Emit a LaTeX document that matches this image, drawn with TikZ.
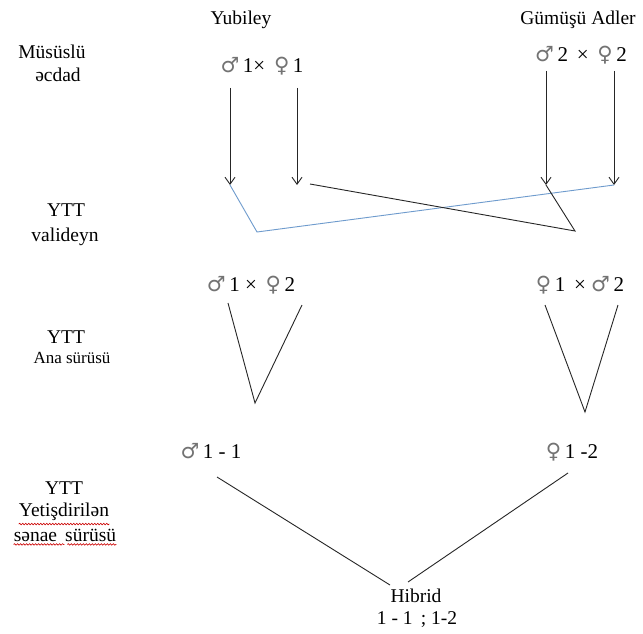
\documentclass[tikz,border=0pt]{standalone}
\usepackage{fontspec}
\setmainfont{Liberation Serif}
\newfontfamily\symfont{DejaVu Sans}
\newcommand{\mal}{{\symfont\fontsize{21}{22}\selectfont\color{black!55}♂}}
\newcommand{\fem}{{\symfont\fontsize{21}{22}\selectfont\color{black!55}♀}}
\usetikzlibrary{arrows.meta,decorations.pathmorphing}
\definecolor{linkblue}{RGB}{110,155,205}
\tikzset{
  lbl/.style={inner sep=0pt, font=\fontsize{19.5}{21}\selectfont},
  small/.style={inner sep=0pt, font=\fontsize{17}{19}\selectfont},
  cross/.style={inner sep=0pt, font=\fontsize{21}{23}\selectfont},
  link/.style={line width=0.9pt, black!85},
  arr/.style={link, -{Straight Barb[length=7pt,width=10pt]}},
  wavy/.style={red!80!black, line width=0.6pt, decorate,
    decoration={snake, segment length=3pt, amplitude=0.8pt}}
}
\begin{document}
\begin{tikzpicture}[x=1pt,y=-1pt]
\useasboundingbox (0,0) rectangle (643,634);
\fill[white] (0,0) rectangle (643,634);

% breed names
\node[lbl] (yub) at (241,20) {Yubiley};
\node[lbl] (gum) at (578,20) {Gümüşü Adler};

% generation labels
\node[lbl] (g1a) at (52,52) {Müsüslü};
\node[lbl] (g1b) at (58,75) {əcdad};
\node[lbl] (g2a) at (66,210) {YTT};
\node[lbl] (g2b) at (65,237) {valideyn};
\node[lbl] (g3a) at (66,337) {YTT};
\node[small] (g3b) at (72,358) {Ana sürüsü};
\node[lbl] (g4a) at (64,488) {YTT};
\node[lbl] (g4b) at (64,512) {Yetişdirilən};
\node[lbl] (g4c) at (65,535) {sənae\, sürüsü};
\draw[wavy] ([yshift=-3pt]g4b.south west) -- ([yshift=-3pt]g4b.south east);
\draw[wavy] ([yshift=-3pt]g4c.south west) -- ([yshift=-3pt,xshift=-52pt]g4c.south east);
\draw[wavy] ([yshift=-3pt,xshift=-49pt]g4c.south east) -- ([yshift=-3pt]g4c.south east);

% crosses
\node[cross] (c1) at (262,66) {\mal\,1× \,\fem\,1};
\node[cross] (c2) at (581,55) {\mal\,2 \,× \,\fem\,2};
\node[cross] (c3) at (251,285) {\mal\,1 × \,\fem\,2};
\node[cross] (c4) at (580,285) {\fem\,1 \,× \mal\,2};
\node[cross] (m11) at (211,451) {\mal\,1 - 1};
\node[cross] (f12) at (572,452) {\fem\,1 -2};
\node[lbl] (hib) at (416,596) {Hibrid};
\node[lbl] (hibn) at (417,620) {1 - 1 \,; 1-2};

% anchor points of the connectors
\coordinate (a1s) at (230,88);  \coordinate (a1e) at (230,185);
\coordinate (a2s) at (297,88);  \coordinate (a2e) at (297,185);
\coordinate (a3s) at (546,71);  \coordinate (a3e) at (546,185);
\coordinate (a4s) at (614,71);  \coordinate (a4e) at (614,185);
\coordinate (bl) at (257,232);
\coordinate (kr) at (575,231);
\coordinate (ks) at (310,184);
\coordinate (v1l) at (228,303); \coordinate (v1b) at (255,403); \coordinate (v1r) at (302,305);
\coordinate (v2l) at (545,305); \coordinate (v2b) at (585,412); \coordinate (v2r) at (618,305);
\coordinate (h1) at (217,477);  \coordinate (h1e) at (390,585);
\coordinate (h2) at (568,473);  \coordinate (h2e) at (408,582);

% parent lines
\draw[arr] (a1s) -- (a1e);
\draw[arr] (a2s) -- (a2e);
\draw[arr] (a3s) -- (a3e);
\draw[arr] (a4s) -- (a4e);

% crossing of the parent lines
\draw[line width=0.9pt, linkblue] (a1e) -- (bl) -- (a4e);
\draw[link] (ks) -- (kr) -- (a3e);

% parent stock crosses
\draw[link] (v1l) -- (v1b) -- (v1r);
\draw[link] (v2l) -- (v2b) -- (v2r);

% final cross
\draw[link] (h1) -- (h1e);
\draw[link] (h2) -- (h2e);
\end{tikzpicture}
\end{document}
